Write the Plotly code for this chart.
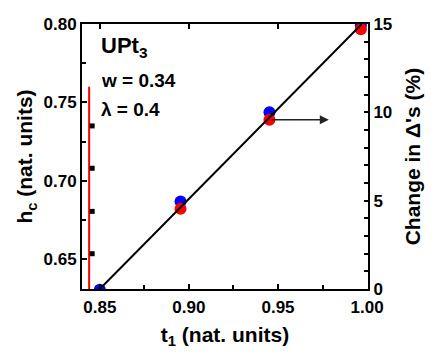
import plotly.graph_objects as go

# data
t1_blue = [0.85, 0.8953, 0.9452, 0.9965]
hc_blue = [0.6305, 0.6868, 0.7437, 0.7990]
t1_red = [0.8953, 0.9452, 0.9965]
delta_red = [4.54, 9.58, 14.7]
fit_t1 = [0.85, 0.997]
fit_delta = [0.0, 15.0]
vline_t1 = [0.844, 0.844]
vline_hc = [0.760, 0.62]
sq_t1 = [0.8457, 0.8457, 0.8457, 0.8457]
sq_hc = [0.735, 0.708, 0.6805, 0.6535]
arrow_from = (0.9452, 9.58)
arrow_to = (0.9785, 9.58)

FONT = "Liberation Sans"

fig = go.Figure()
fig.add_trace(go.Scatter(x=t1_blue, y=hc_blue, mode="markers",
                         marker=dict(color="#0000ff", size=12), xaxis="x", yaxis="y"))
fig.add_trace(go.Scatter(x=vline_t1, y=vline_hc, mode="lines",
                         line=dict(color="#ff0000", width=2), xaxis="x", yaxis="y"))
fig.add_trace(go.Scatter(x=sq_t1, y=sq_hc, mode="markers",
                         marker=dict(color="black", size=5, symbol="square"), xaxis="x", yaxis="y"))
fig.add_trace(go.Scatter(x=t1_red, y=delta_red, mode="markers",
                         marker=dict(color="#ff0000", size=12), xaxis="x", yaxis="y2"))
fig.add_trace(go.Scatter(x=fit_t1, y=fit_delta, mode="lines",
                         line=dict(color="black", width=2), xaxis="x", yaxis="y2"))
fig.add_trace(go.Scatter(x=[], y=[], xaxis="x2", yaxis="y", showlegend=False))

tickfont = dict(family=FONT, size=17, color="black")
titlefont = dict(family=FONT, size=21, color="black")

fig.update_layout(
    width=420, height=341,
    margin=dict(l=74, r=60, t=16, b=60, autoexpand=False),
    paper_bgcolor="white", plot_bgcolor="white",
    showlegend=False,
    font=dict(family=FONT, color="black"),
    xaxis=dict(range=[0.84, 1.0005], tickvals=[0.85, 0.90, 0.95, 1.00], automargin=False,
               ticktext=["<b>0.85</b>", "<b>0.90</b>", "<b>0.95</b>", "<b>1.00</b>"],
               ticks="inside", ticklen=5, tickwidth=1.5, tickcolor="black",
               minor=dict(dtick=0.025, tick0=0.85, ticks="inside", ticklen=4, tickwidth=1.5, tickcolor="black"),
               showline=True, linewidth=2, linecolor="black", showgrid=False, zeroline=False,
               tickfont=tickfont, ticklabelstandoff=2,
               title=dict(text="<b>t<sub>1</sub> (nat. units)</b>", font=titlefont, standoff=12)),
    xaxis2=dict(range=[0.84, 1.0005], overlaying="x", side="top", anchor="y", automargin=False,
                tickvals=[0.85, 0.90, 0.95], showticklabels=False,
                ticks="inside", ticklen=5, tickwidth=1.5, tickcolor="black",
                showline=True, linewidth=2, linecolor="black", showgrid=False, zeroline=False),
    yaxis=dict(range=[0.631, 0.80], tickvals=[0.65, 0.70, 0.75, 0.80], automargin=False,
               ticktext=["<b>0.65</b>", "<b>0.70</b>", "<b>0.75</b>", "<b>0.80</b>"],
               ticks="inside", ticklen=5, tickwidth=1.5, tickcolor="black",
               minor=dict(dtick=0.025, tick0=0.65, ticks="inside", ticklen=4, tickwidth=1.5, tickcolor="black"),
               showline=True, linewidth=2, linecolor="black", showgrid=False, zeroline=False,
               tickfont=tickfont,
               title=dict(text="<b>h<sub>c</sub> (nat. units)</b>", font=titlefont, standoff=5)),
    yaxis2=dict(range=[0, 15], overlaying="y", side="right", anchor="x", automargin=False,
                tickvals=[0, 5, 10, 15], ticktext=["<b>0</b>", "<b>5</b>", "<b>10</b>", "<b>15</b>"],
                ticks="inside", ticklen=4, tickwidth=1.5, tickcolor="black",
                minor=dict(dtick=1, tick0=0, ticks="inside", ticklen=4, tickwidth=1.5, tickcolor="black"),
                showline=True, linewidth=2, linecolor="black", showgrid=False, zeroline=False,
                tickfont=tickfont,
                title=dict(text="<b>Change in Δ's (%)</b>", font=titlefont, standoff=14)),
)

fig.add_annotation(x=arrow_to[0], y=arrow_to[1], xref="x", yref="y2",
                   ax=arrow_from[0], ay=arrow_from[1], axref="x", ayref="y2",
                   showarrow=True, arrowhead=2, arrowsize=1.2, arrowwidth=1.5, arrowcolor="#222222", text="")

fig.add_annotation(x=0.06, y=1 - (47 - 24) / 265, xref="paper", yref="paper",
                   xanchor="left", yanchor="middle", showarrow=False,
                   text="<b>UPt<sub>3</sub></b>", font=dict(family=FONT, size=22, color="black"))
fig.add_annotation(x=0.06, y=1 - (80.7 - 24) / 265, xref="paper", yref="paper",
                   xanchor="left", yanchor="middle", showarrow=False,
                   text="<b>w = 0.34</b>", font=dict(family=FONT, size=19, color="black"))
fig.add_annotation(x=0.06, y=1 - (109.3 - 24) / 265, xref="paper", yref="paper",
                   xanchor="left", yanchor="middle", showarrow=False,
                   text="<b>λ = 0.4</b>", font=dict(family=FONT, size=19, color="black"))

fig.write_html("out.html")
